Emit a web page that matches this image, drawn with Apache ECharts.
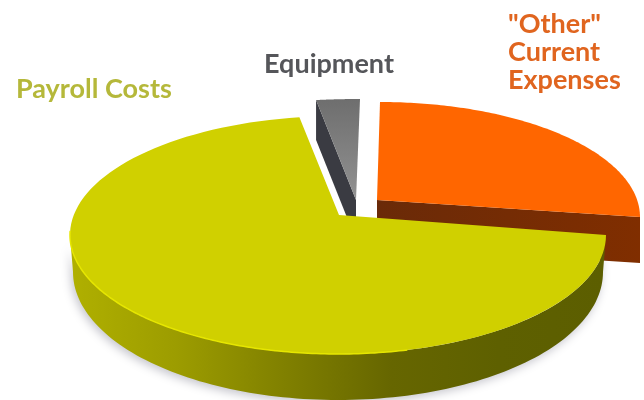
<!DOCTYPE html>
<html><head><meta charset="utf-8">
<style>html,body{margin:0;padding:0;background:#fff}#c{width:644px;height:400px}</style>
<script src="https://cdn.jsdelivr.net/npm/echarts@6/dist/echarts.min.js"></script>
</head><body><div id="c"></div>
<script>
// data, in drawing order, counter-clockwise from east
const categories = ['"Other"\nCurrent\nExpenses', 'Equipment', 'Payroll Costs'];
const shares = [25, 2.3, 72.7];

// presentation of the tilted pie
const layout = [
  {cx:380, cy:217, rx:260, ry:115, ax:377, ay:200, depth:46, top:'#ff6600',
   wall:['#6a2a08','#802e00'], text:'#e0651f', lx:508, ly:10, align:'left'},
  {cx:360, cy:200, rx:305, ry:101, ax:356, ay:200, depth:40, top:['#6e6e6e','#929292'],
   wall:['#3a3b42','#3a3b42'], text:'#55565a', lx:329, ly:50, align:'center'},
  {cx:338, cy:235, rx:268, ry:119, ax:339, ay:215, top:'#d0d000',
   floor:{cx:338, cy:272, rx:265, ry:128},
   wall:['#b0b000','#9c9c00','#808000','#666600','#5e6000','#5c5e00'], text:'#b5b83a', lx:16, ly:75, align:'left'}
];
const lineHeight = 28;

function arc(p, a0, a1) {
  const pts = [], n = 120;
  for (let i = 0; i <= n; i++) {
    const t = (a0 + (a1 - a0) * i / n) * Math.PI / 180;
    pts.push([p.cx + p.rx * Math.cos(t), p.cy - p.ry * Math.sin(t)]);
  }
  return pts;
}
function grad(cols, vertical) {
  if (typeof cols === 'string') return cols;
  return {type:'linear', x:0, y:0, x2:vertical?0:1, y2:vertical?1:0,
    colorStops: cols.map((c,i)=>({offset:i/(cols.length-1), color:c}))};
}
const total = shares.reduce((a,b)=>a+b,0);
const startAngles = [];
shares.reduce((acc,v,i)=>{startAngles[i]=acc; return acc+v/total*360;},0);

function renderItem(params, api) {
  const i = params.dataIndex, p = layout[i];
  const a0 = startAngles[i], a1 = a0 + api.value(0)/total*360;
  const top = arc(p, a0, a1);
  const kids = [];
  if (i === 0) {
    const e = top[0];
    kids.push({type:'polygon', shape:{points:[[p.ax,p.ay],e,[e[0],e[1]+p.depth],[p.ax,p.ay+p.depth]]},
      style:{fill:grad(p.wall)}});
  } else if (i === 1) {
    const e = top[top.length-1];
    kids.push({type:'polygon', shape:{points:[[p.ax,p.ay],e,[e[0],e[1]+p.depth],[p.ax,p.ay+p.depth]]},
      style:{fill:p.wall[0]}});
  } else {
    const up = arc(p, 180, 360), low = arc(p.floor, 360, 180);
    kids.push({type:'polygon', shape:{points:up.concat(low)},
      style:{fill:grad(p.wall), shadowBlur:10, shadowColor:'rgba(90,90,110,0.35)', shadowOffsetX:-2, shadowOffsetY:3}});
  }
  kids.push({type:'polygon', shape:{points:[[p.ax,p.ay]].concat(top)},
    style:{fill:grad(p.top, true)}});
  if (i === 2) {
    kids.push({type:'polyline', shape:{points:arc(p, 178, 285)},
      style:{fill:null, stroke:'#e6e600', lineWidth:1.5}});
  }
  kids.push({type:'text', x:p.lx, y:p.ly,
    style:{text:categories[i], fill:p.text, align:p.align, verticalAlign:'top',
      font:'bold 27px "Lato", sans-serif', lineHeight:lineHeight}});
  return {type:'group', children:kids};
}

const chart = echarts.init(document.getElementById('c'), null, {renderer:'canvas'});
chart.setOption({
  animation:false,
  backgroundColor:'#fff',
  series:[{type:'custom', coordinateSystem:'none', renderItem,
    data:shares.map((v,i)=>({name:categories[i], value:[v]}))}]
});
</script></body></html>
